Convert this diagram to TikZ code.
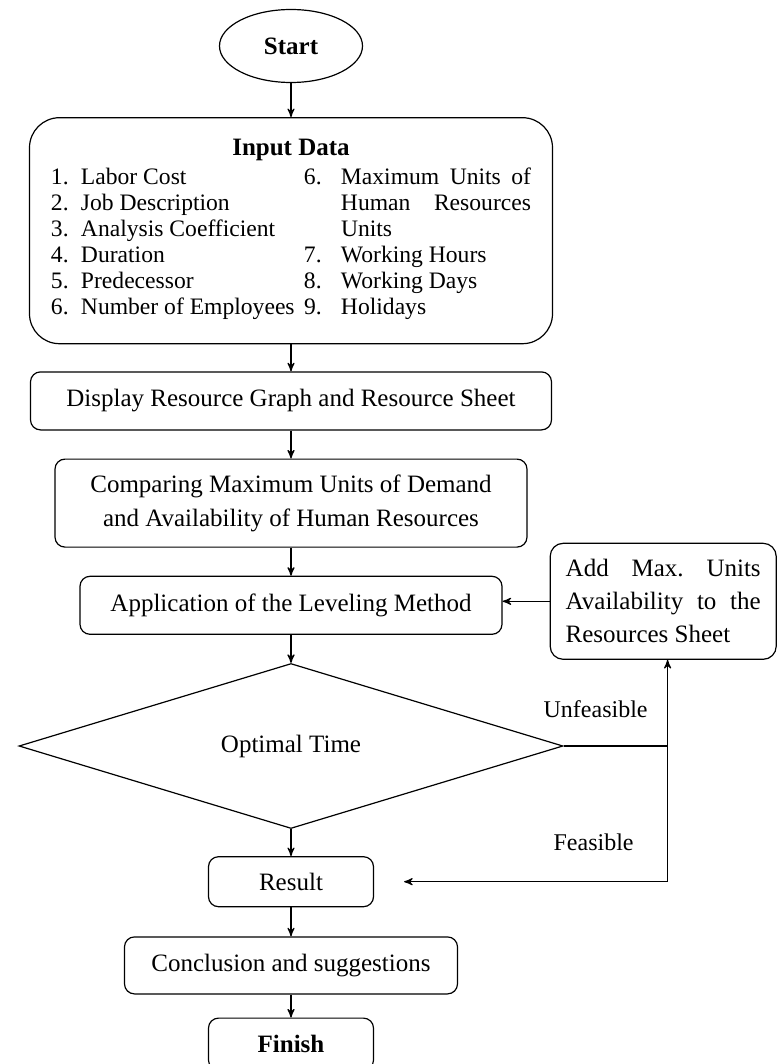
\documentclass[tikz,border=0pt]{standalone}
\usepackage{fontspec}
\setmainfont{Liberation Serif}
\usetikzlibrary{shapes,arrows,positioning}
\tikzstyle{block} = [draw, rectangle, semithick, rounded corners=5pt, text centered, align=center, inner sep=0pt, font=\fontsize{12.5}{17}\selectfont]
\tikzstyle{terminal} = [draw, ellipse, semithick, minimum width=71.5pt, minimum height=36.5pt, inner sep=0pt, font=\fontsize{12.5}{15}\selectfont\bfseries]
\tikzstyle{datablock} = [block, rounded corners=15pt, minimum width=261.5pt, minimum height=113pt]
\tikzstyle{sideblock} = [block, rounded corners=6.5pt, align=left, minimum width=113pt, minimum height=58pt, font=\fontsize{12.5}{16.5}\selectfont]
\tikzstyle{decision} = [draw, diamond, semithick, aspect=3.3, minimum width=272pt, minimum height=82.5pt, inner sep=0pt, font=\fontsize{12.5}{15}\selectfont]
\tikzstyle{branch} = [inner sep=0pt, font=\fontsize{12}{14}\selectfont]
\tikzstyle{arrow} = [semithick,-]
\tikzstyle{arrow1} = [semithick,->,>=stealth']

\begin{document}
\begin{tikzpicture}[auto, node distance=14pt]
\useasboundingbox (-145.5pt,23pt) rectangle (242.5pt,-509pt);

% Place nodes
\node [terminal] (start) at (0,0) {Start};
\node [datablock, below=17pt of start] (input) {%
  \textbf{Input Data}\\[1.5pt]
  {\fontsize{11.8}{13}\selectfont
  \begin{tabular}{@{}p{15pt}@{}p{111.5pt}@{}p{18.5pt}@{}p{95pt}@{}}
  1. & Labor Cost & 6. & \makebox[95pt][s]{Maximum Units of}\\
  2. & Job Description & & \makebox[95pt][s]{Human Resources}\\
  3. & Analysis Coefficient & & Units\\
  4. & Duration & 7. & Working Hours\\
  5. & Predecessor & 8. & Working Days\\
  6. & Number of Employees & 9. & Holidays
  \end{tabular}}};
\node [block, below=13.5pt of input, minimum width=260.5pt, minimum height=29pt] (display) {Display Resource Graph and Resource Sheet};
\node [block, below=of display, minimum width=236pt, minimum height=44pt] (compare) {Comparing Maximum Units of Demand\\and Availability of Human Resources};
\node [block, below=of compare, minimum width=211pt, minimum height=29pt] (apply) {Application of the Leveling Method};
\node [sideblock, right=23.5pt of apply, yshift=2pt] (addmax) {%
  \makebox[97.5pt][s]{Add Max.\ Units}\\
  \makebox[97.5pt][s]{Availability to the}\\
  Resources Sheet};
\node [decision, below=14pt of apply] (optimal) {\raisebox{-3pt}{Optimal Time}};
\node [block, below=13.5pt of optimal, minimum width=82.5pt, minimum height=25pt] (result) {Result};
\node [block, below=14.5pt of result, minimum width=166.5pt, minimum height=28.5pt] (conclusion) {Conclusion and suggestions};
\node [block, below=11.5pt of conclusion, minimum width=82.5pt, minimum height=26pt, font=\fontsize{12.5}{15}\selectfont\bfseries] (finish) {Finish};
\coordinate [right=52pt of optimal.east] (turn);
\node [branch] (unfeasible) at ([xshift=-36pt, yshift=18.5pt]turn) {Unfeasible};
\node [branch] (feasible) at ([xshift=-37pt, yshift=-48pt]turn) {Feasible};

% Place lines
\draw [arrow1] (start) -- (input);
\draw [arrow1] (input) -- (display);
\draw [arrow1] (display) -- (compare);
\draw [arrow1] (compare) -- (apply);
\draw [arrow1] (apply) -- (optimal);
\draw [arrow1] (optimal) -- (result);
\draw [arrow1] (result) -- (conclusion);
\draw [arrow1] (conclusion) -- (finish);
\draw [arrow1] (addmax.west) -- (apply.east |- addmax.west);
\draw [arrow] (optimal.east) -- (turn);
\draw [arrow1] (turn) -- (turn |- addmax.south);
\draw [arrow1, shorten >=15pt] (turn) |- (result.east);

\end{tikzpicture}
\end{document}
